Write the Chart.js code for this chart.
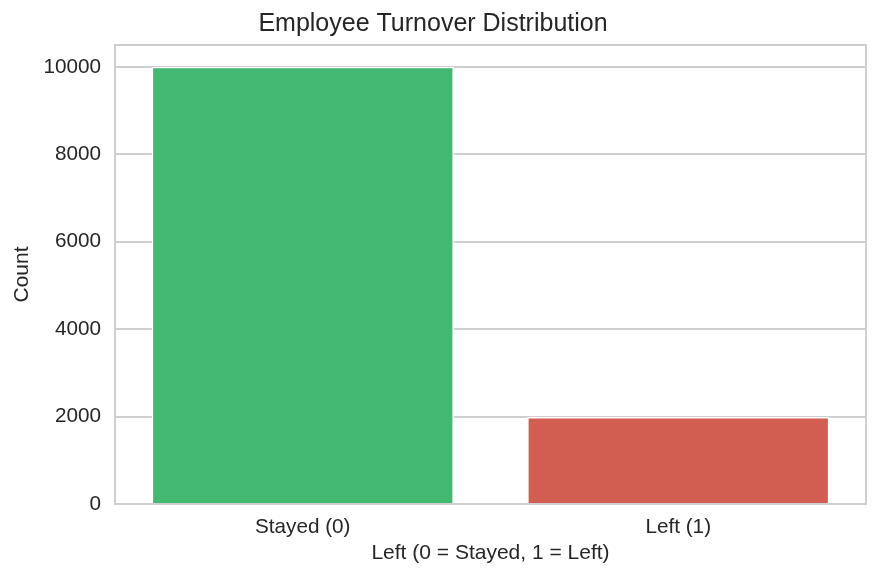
<!DOCTYPE html>
<html>
<head>
<meta charset="utf-8">
<script src="https://cdn.jsdelivr.net/npm/chart.js@4/dist/chart.umd.min.js"></script>
<style>
    html, body { margin: 0; padding: 0; background: #ffffff; }
    #wrap { width: 883px; height: 580px; position: relative; }
</style>
</head>
<body>
<div id="wrap"><canvas id="turnover"></canvas></div>
<script>
// data
const categories = ["Stayed (0)", "Left (1)"]
const counts = [10000, 1991]
const barColors = ["#42b873", "#d15e51"]
const yTicks = [0, 2000, 4000, 6000, 8000, 10000]

const textColor = "#262626"
const gridColor = "#cfcfcf"
const fontFamily = "'Liberation Sans', Arial, sans-serif"

// draws the four light grey spines round the plot area
const spinePlugin = {
    id: 'spines',
    beforeDatasetsDraw(chart) {
        const { ctx, chartArea } = chart
        ctx.save()
        ctx.strokeStyle = gridColor
        ctx.lineWidth = 2
        ctx.strokeRect(chartArea.left, chartArea.top, chartArea.right - chartArea.left, chartArea.bottom - chartArea.top)
        ctx.restore()
    }
}

const ctx = document.getElementById('turnover').getContext('2d')
const chart = new Chart(ctx, {
    type: 'bar',
    data: {
        labels: categories,
        datasets: [{
            data: counts,
            backgroundColor: barColors,
            borderColor: '#ffffff',
            borderWidth: 1.5,
            barPercentage: 0.805,
            categoryPercentage: 1.0
        }]
    },
    plugins: [spinePlugin],
    options: {
        animation: false,
        responsive: true,
        maintainAspectRatio: false,
        layout: {
            padding: { left: 0, right: 17, top: 0, bottom: 0 }
        },
        plugins: {
            legend: { display: false },
            tooltip: { enabled: false },
            title: {
                display: true,
                text: 'Employee Turnover Distribution',
                color: textColor,
                font: { family: fontFamily, size: 25, weight: 'normal', lineHeight: 1.2 },
                padding: { top: 9, bottom: 6 }
            }
        },
        scales: {
            x: {
                grid: { display: false, drawTicks: false },
                border: { display: false },
                ticks: {
                    color: textColor,
                    padding: 11,
                    font: { family: fontFamily, size: 20.7 }
                },
                title: {
                    display: true,
                    text: 'Left (0 = Stayed, 1 = Left)',
                    color: textColor,
                    font: { family: fontFamily, size: 21, lineHeight: 1.2 },
                    padding: { top: 0, bottom: 14 }
                },
                afterFit(scale) { scale.height = 76 }
            },
            y: {
                min: 0,
                max: 10500,
                afterBuildTicks(scale) {
                    scale.ticks = yTicks.map(v => ({ value: v }))
                },
                grid: { color: gridColor, lineWidth: 2, drawTicks: false },
                border: { display: false },
                ticks: {
                    color: textColor,
                    padding: 14,
                    font: { family: fontFamily, size: 20.7 },
                    callback: value => String(value)
                },
                title: {
                    display: true,
                    text: 'Count',
                    color: textColor,
                    font: { family: fontFamily, size: 21, lineHeight: 1.2 },
                    padding: { top: 10, bottom: 0 }
                },
                afterFit(scale) { scale.width = 115 }
            }
        }
    }
})
</script>
</body>
</html>
